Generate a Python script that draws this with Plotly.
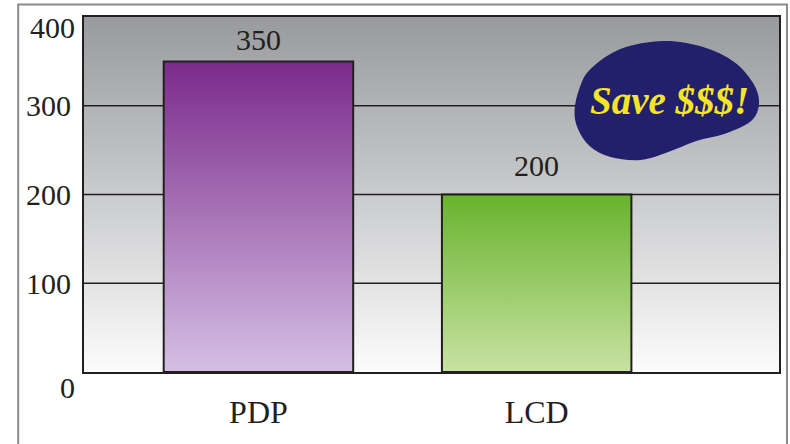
import plotly.graph_objects as go

# ---------------- data ----------------
categories = ["PDP", "LCD"]
values = [350, 200]
y_tick_values = [0, 100, 200, 300, 400]
y_tick_labels = ["0", "100", "200", "300", "400"]
callout_text = "Save $$$!"

# ---------------- layout constants ----------------
W, H = 790, 444
L, R, T, B = 84, 9, 17, 72
PW, PH = W - L - R, H - T - B
X_RANGE = [-0.627, 1.871]
Y_RANGE = [0, 400]
BAR_WIDTH = 0.681
TEXT = "#231f20"
SERIF = "Liberation Serif, Times New Roman, serif"
NUM_SIZE = 30
CAT_SIZE = 32

bar_top_colors = ["#7b2a8b", "#68b32d"]
bar_bottom_colors = ["#d5bfe4", "#c8e2a2"]
bg_top, bg_bottom = "#989a9d", "#fcfcfc"


def px2paper(px, py):
    return (px - L) / PW, (T + PH - py) / PH


fig = go.Figure()

# plot-area gradient background
fig.add_trace(go.Scatter(
    x=[X_RANGE[0], X_RANGE[0], X_RANGE[1], X_RANGE[1], X_RANGE[0]],
    y=[Y_RANGE[0], Y_RANGE[1], Y_RANGE[1], Y_RANGE[0], Y_RANGE[0]],
    mode="lines", line=dict(width=0), fill="toself",
    fillgradient=dict(type="vertical", colorscale=[[0, bg_bottom], [1, bg_top]]),
    hoverinfo="skip", showlegend=False,
))

# gridlines (drawn above the background, below the bars)
for v in y_tick_values[1:-1]:
    fig.add_trace(go.Scatter(
        x=X_RANGE, y=[v, v], mode="lines",
        line=dict(color=TEXT, width=1.6),
        hoverinfo="skip", showlegend=False,
    ))

# bars with vertical gradients
for i, (cat, v) in enumerate(zip(categories, values)):
    x0, x1 = i - BAR_WIDTH / 2, i + BAR_WIDTH / 2
    fig.add_trace(go.Scatter(
        x=[x0, x0, x1, x1, x0], y=[0, v, v, 0, 0],
        mode="lines", line=dict(color=TEXT, width=2),
        fill="toself",
        fillgradient=dict(type="vertical",
                          colorscale=[[0, bar_bottom_colors[i]], [1, bar_top_colors[i]]]),
        name=cat, hoverinfo="skip", showlegend=False,
    ))

annotations = []
label_shifts = [3, 11]
for i, v in enumerate(values):
    annotations.append(dict(
        x=i, y=v, xref="x", yref="y", text=str(v), showarrow=False,
        yanchor="bottom", yshift=label_shifts[i],
        font=dict(family=SERIF, size=NUM_SIZE, color=TEXT),
    ))

# extreme y tick labels (offset as in reference)
annotations.append(dict(
    x=0, y=y_tick_values[0], xref="paper", yref="y", text=y_tick_labels[0],
    showarrow=False, xanchor="right", yanchor="middle", xshift=-7, yshift=-15,
    font=dict(family=SERIF, size=NUM_SIZE, color=TEXT),
))
annotations.append(dict(
    x=0, y=y_tick_values[-1], xref="paper", yref="y", text=y_tick_labels[-1],
    showarrow=False, xanchor="right", yanchor="middle", xshift=-7, yshift=-10,
    font=dict(family=SERIF, size=NUM_SIZE, color=TEXT),
))

# callout text
cx, cy = px2paper(671, 100)
annotations.append(dict(
    x=cx, y=cy, xref="paper", yref="paper", text="<b><i>%s</i></b>" % callout_text,
    showarrow=False, xanchor="center", yanchor="middle",
    font=dict(family=SERIF, size=39, color="#f4e526"),
))

# blob shape (smooth closed curve through outline points, in pixels)
blob_px = [(665, 41), (705, 47), (736, 62), (755, 83), (761, 103), (753, 121),
           (726, 134), (698, 141), (670, 152), (642, 160), (612, 157), (591, 146),
           (579, 128), (576, 110), (581, 88), (592, 69), (622, 49)]
n = len(blob_px)
pts = [px2paper(*p) for p in blob_px]
path = "M %.5f,%.5f " % pts[0]
for i in range(n):
    p0, p1, p2, p3 = pts[i - 1], pts[i], pts[(i + 1) % n], pts[(i + 2) % n]
    c1 = (p1[0] + (p2[0] - p0[0]) / 6, p1[1] + (p2[1] - p0[1]) / 6)
    c2 = (p2[0] - (p3[0] - p1[0]) / 6, p2[1] - (p3[1] - p1[1]) / 6)
    path += "C %.5f,%.5f %.5f,%.5f %.5f,%.5f " % (c1 + c2 + p2)
path += "Z"

bx0, by0 = px2paper(18, 470)
bx1, by1 = px2paper(789, 4.5)
shapes = [
    dict(type="path", path=path, xref="paper", yref="paper",
         fillcolor="#221f6c", line=dict(width=0), layer="above"),
    dict(type="rect", xref="paper", yref="paper", x0=bx0, y0=by0, x1=bx1, y1=by1,
         line=dict(color="#8a8a8a", width=2), fillcolor="rgba(0,0,0,0)", layer="below"),
]

fig.update_layout(
    width=W, height=H,
    margin=dict(l=L, r=R, t=T, b=B, pad=0),
    paper_bgcolor="white", plot_bgcolor="white",
    showlegend=False, hovermode=False,
    annotations=annotations, shapes=shapes,
    font=dict(family=SERIF, color=TEXT),
)
fig.update_xaxes(
    range=X_RANGE, tickvals=list(range(len(categories))), ticktext=categories,
    showgrid=False, zeroline=False, ticks="", ticklabelstandoff=11,
    tickfont=dict(family=SERIF, size=CAT_SIZE, color=TEXT),
    showline=True, mirror=True, linecolor=TEXT, linewidth=2,
)
fig.update_yaxes(
    range=Y_RANGE, tickvals=y_tick_values[1:-1], ticktext=y_tick_labels[1:-1],
    showgrid=False, zeroline=False, ticks="", ticklabelstandoff=5,
    tickfont=dict(family=SERIF, size=NUM_SIZE, color=TEXT),
    showline=True, mirror=True, linecolor=TEXT, linewidth=2,
)

fig.write_html("out.html")
